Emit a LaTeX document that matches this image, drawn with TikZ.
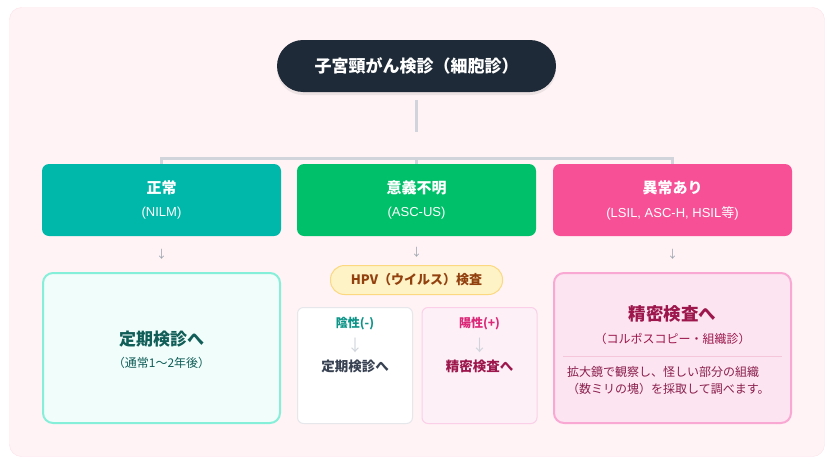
\documentclass[tikz,border=0pt]{standalone}
\usepackage{fontspec}
\setmainfont{Noto Sans CJK JP}
\newfontfamily\latinf{Liberation Sans}
\usetikzlibrary{shadows}
\definecolor{outerfill}{HTML}{FFF3F5}
\definecolor{outerline}{HTML}{FCE1E8}
\definecolor{titlebg}{HTML}{1E2A37}
\definecolor{conncol}{HTML}{D1D5DB}
\definecolor{tealc}{HTML}{00B8A9}
\definecolor{greenc}{HTML}{00C16A}
\definecolor{pinkc}{HTML}{F75096}
\definecolor{tealfill}{HTML}{F0FDFA}
\definecolor{tealline}{HTML}{86EFD9}
\definecolor{tealtext}{HTML}{115E59}
\definecolor{hpvfill}{HTML}{FEF3C7}
\definecolor{hpvline}{HTML}{FCD980}
\definecolor{hpvtext}{HTML}{92400E}
\definecolor{negline}{HTML}{E5E7EB}
\definecolor{neglabel}{HTML}{0D9488}
\definecolor{negtext}{HTML}{374151}
\definecolor{posfill}{HTML}{FDF0F7}
\definecolor{posline}{HTML}{FBCFE8}
\definecolor{poslabel}{HTML}{DB2777}
\definecolor{postext}{HTML}{9D174D}
\definecolor{bigpinkfill}{HTML}{FCE4F0}
\definecolor{bigpinkline}{HTML}{F9A8D4}
\definecolor{sepcol}{HTML}{F5C6DA}
\definecolor{detailcol}{HTML}{8A1F4D}
\definecolor{arrowgray}{HTML}{9CA3AF}
\definecolor{arrowlight}{HTML}{D1D5DB}
\newcommand{\fsz}[1]{\fontsize{#1}{#1}\selectfont}
\begin{document}
\begin{tikzpicture}[x=1pt,y=-1pt,
  catbox/.style={rounded corners=7pt, inner sep=0pt, minimum width=239pt, minimum height=72pt},
  cattitle/.style={inner sep=0pt, text=white, font=\fsz{15}\bfseries},
  catsub/.style={inner sep=0pt, text=white, font=\fsz{13}},
  connline/.style={draw=conncol, line width=3pt},
  downarrow/.style={inner sep=0pt, text=arrowgray, font=\fsz{11}},
  innerarrow/.style={inner sep=0pt, text=arrowlight, font=\fsz{16}},
  resbox/.style={line width=2pt, rounded corners=10pt, minimum width=237pt, minimum height=150pt, inner sep=0pt},
  smallbox/.style={line width=1pt, rounded corners=6pt, minimum width=115pt, minimum height=116pt, inner sep=0pt},
  txt/.style={inner sep=0pt}]
\useasboundingbox (0,0) rectangle (835,466);
\draw[outerline, fill=outerfill, rounded corners=12pt] (9.5,7.5) rectangle (824.5,456.5);

% title
\node[fill=titlebg, text=white, rounded corners=26pt, minimum width=279pt, minimum height=52pt, inner sep=0pt,
      font=\fsz{17}\bfseries, drop shadow={opacity=0.15, shadow xshift=0pt, shadow yshift=-3pt}] (title) at (416.5,66) {子宮頸がん検診（細胞診）};

% category boxes
\node[catbox, fill=tealc] (ok) at (161.5,200) {};
\node[catbox, fill=greenc] (asc) at (416.5,200) {};
\node[catbox, fill=pinkc] (bad) at (672.5,200) {};
\node[cattitle] (okT) at (161.5,188) {正常};
\node[catsub] (okS) at (161.5,213) {\latinf (NILM)};
\node[cattitle] (ascT) at (416.5,188) {意義不明};
\node[catsub] (ascS) at (416.5,213) {\latinf (ASC-US)};
\node[cattitle] (badT) at (672.5,188) {異常あり};
\node[catsub] (badS) at (672.5,213) {{\latinf (LSIL, ASC-H, HSIL}等{\latinf )}};

% connectors
\coordinate (vbot) at (416.5,132);
\coordinate (hl) at (416.5,158);
\draw[connline] ([yshift=-8pt]title.south) -- (vbot);
\draw[connline] (ok.north) -- (ok.north |- hl) -- (bad.north |- hl) -- (bad.north);
\draw[connline] (hl) -- (asc.north);

% small arrows
\node[downarrow] (a1) at (161.5,254) {↓};
\node[downarrow] (a2) at (416.5,252) {↓};
\node[downarrow] (a3) at (672.5,254) {↓};

% regular check box
\node[resbox, draw=tealline, fill=tealfill] (reg) at (161.5,348) {};
\node[txt, text=tealtext, font=\fsz{17}\bfseries] (regT) at (161.5,339) {定期検診へ};
\node[txt, text=tealtext, font=\fsz{12}] (regS) at (161.5,363) {（通常1〜2年後）};

% HPV
\node[draw=hpvline, fill=hpvfill, line width=1pt, rounded corners=14pt, minimum width=172pt, minimum height=29pt,
      inner sep=0pt, text=hpvtext, font=\fsz{13}\bfseries] (hpv) at (416.5,280) {HPV（ウイルス）検査};

% negative / positive
\node[smallbox, draw=negline, fill=white] (neg) at (355,365.5) {};
\node[txt, text=neglabel, font=\fsz{12}\bfseries] (negL) at (355,324) {陰性(-)};
\node[innerarrow] (negA) at (355,345) {↓};
\node[txt, text=negtext, font=\fsz{13.5}\bfseries] (negT) at (355,366) {定期検診へ};

\node[smallbox, draw=posline, fill=posfill] (pos) at (479.5,365.5) {};
\node[txt, text=poslabel, font=\fsz{12}\bfseries] (posL) at (479.5,324) {陽性(+)};
\node[innerarrow] (posA) at (479.5,345) {↓};
\node[txt, text=postext, font=\fsz{13.5}\bfseries] (posT) at (479.5,366) {精密検査へ};

% detailed exam box
\node[resbox, draw=bigpinkline, fill=bigpinkfill] (det) at (672.5,348) {};
\node[txt, text=postext, font=\fsz{17.5}\bfseries] (detT) at (672.5,314) {精密検査へ};
\node[txt, text=postext, font=\fsz{12}] (detS) at (672.5,339) {（コルポスコピー・組織診）};
\coordinate (s1) at (563,356);
\coordinate (s2) at (782,356);
\draw[sepcol, line width=1pt] (s1) -- (s2);
\node[txt, anchor=west, text=detailcol, font=\fsz{12}] (detD1) at (567,372) {拡大鏡で観察し、怪しい部分の組織};
\node[txt, anchor=west, text=detailcol, font=\fsz{12}] (detD2) at (567,389) {（数ミリの塊）を採取して調べます。};
\end{tikzpicture}
\end{document}
